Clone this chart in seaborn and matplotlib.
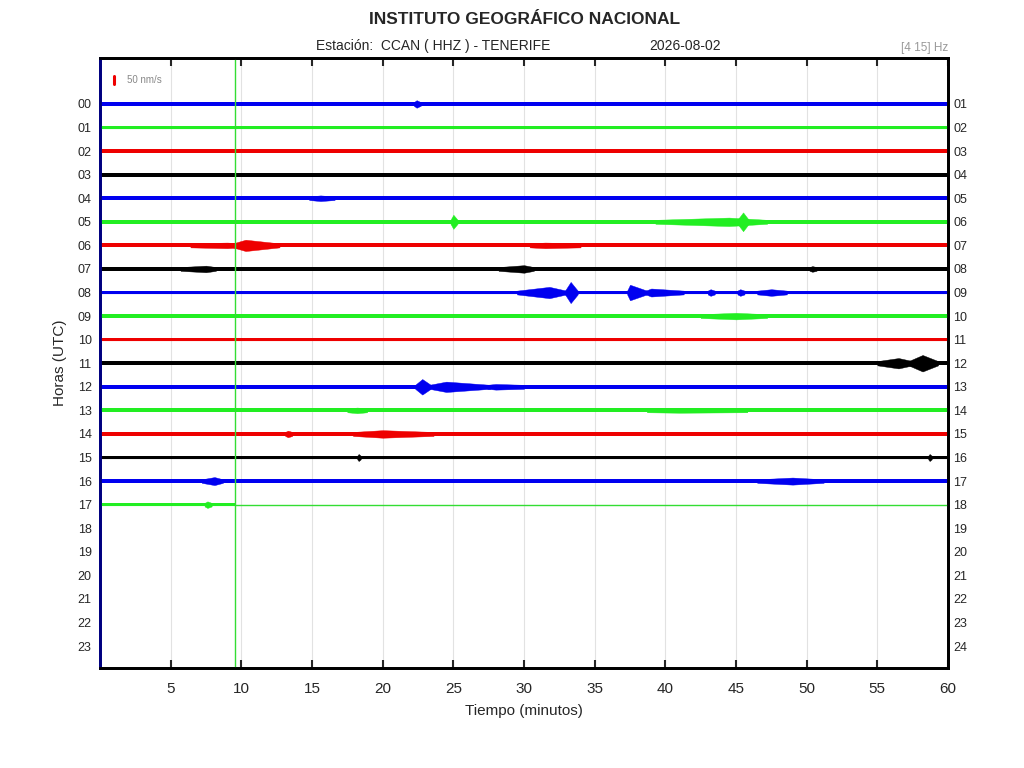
import numpy as np
import pandas as pd
import matplotlib
matplotlib.use("Agg")
import matplotlib.pyplot as plt
import seaborn as sns

# ---- data read from the helicorder ----
hours = [f"{h:02d}" for h in range(18)]
left_labels = [f"{h:02d}" for h in range(24)]
right_labels = [f"{h:02d}" for h in range(1, 25)]

# minute where each trace stops (last hour is still running)
trace_end = [60] * 17 + [9.55]

# background noise half-width of each trace (in row units)
base_halfwidth = [0.075, 0.075, 0.07, 0.08, 0.075, 0.085, 0.085, 0.08, 0.08,
                  0.08, 0.075, 0.09, 0.085, 0.08, 0.085, 0.075, 0.075, 0.075]

# visible bursts: (hour row, start min, peak min, end min, peak half-width)
events = [
    (0, 22.2, 22.4, 22.7, 0.16),
    (4, 14.8, 15.6, 16.6, 0.12),
    (5, 24.8, 25.0, 25.3, 0.30),
    (5, 39.3, 44.5, 47.2, 0.18),
    (5, 45.1, 45.5, 45.9, 0.40),
    (6, 6.4, 9.0, 10.0, 0.12),
    (6, 9.4, 10.3, 12.7, 0.24),
    (6, 30.4, 31.5, 34.0, 0.12),
    (7, 5.7, 7.5, 8.2, 0.14),
    (7, 28.2, 30.0, 30.7, 0.16),
    (7, 50.2, 50.4, 50.7, 0.12),
    (8, 29.5, 31.8, 33.0, 0.24),
    (8, 32.9, 33.3, 33.8, 0.45),
    (8, 37.3, 37.5, 38.7, 0.33),
    (8, 38.6, 39.0, 41.3, 0.17),
    (8, 43.0, 43.2, 43.5, 0.14),
    (8, 45.1, 45.3, 45.6, 0.14),
    (8, 46.5, 47.5, 48.6, 0.14),
    (9, 42.5, 45.0, 47.2, 0.14),
    (11, 55.0, 56.5, 57.5, 0.22),
    (11, 57.2, 58.2, 59.3, 0.35),
    (12, 22.3, 22.8, 23.4, 0.33),
    (12, 23.3, 24.5, 27.6, 0.22),
    (12, 27.4, 28.0, 30.0, 0.12),
    (13, 17.5, 18.2, 18.9, 0.12),
    (13, 38.7, 41.0, 45.8, 0.10),
    (14, 13.1, 13.3, 13.6, 0.14),
    (14, 17.9, 20.0, 23.6, 0.16),
    (15, 18.2, 18.3, 18.45, 0.15),
    (15, 58.6, 58.7, 58.85, 0.15),
    (16, 7.2, 8.1, 8.7, 0.17),
    (16, 46.5, 49.0, 51.2, 0.15),
    (17, 7.4, 7.6, 7.9, 0.14),
]

# ---- styling ----
trace_palette = ["#0000f0", "#22ee22", "#ee0000", "#000000"]
row_colors = [trace_palette[i % 4] for i in range(len(hours))]

sns.set_style("white")
plt.rcParams["font.family"] = ["Liberation Sans", "DejaVu Sans"]

fig = plt.figure(figsize=(10.24, 7.68), dpi=100)
ax = fig.add_axes([100 / 1024, 1 - 668 / 768, 848 / 1024, 610 / 768])

# trace centre lines through seaborn
lines = pd.DataFrame({
    "hora": np.repeat(hours, 2),
    "minuto": np.ravel([[0, e] for e in trace_end]),
    "pos": np.repeat([-i for i in range(len(hours))], 2),
})
sns.lineplot(data=lines, x="minuto", y="pos", hue="hora", palette=row_colors,
             legend=False, linewidth=0.8, ax=ax, estimator=None, sort=False)

# noise band of each trace
for i, (end, hw) in enumerate(zip(trace_end, base_halfwidth)):
    ax.fill_between([0, end], [-i - hw] * 2, [-i + hw] * 2,
                    color=row_colors[i], linewidth=0, zorder=3)

# bursts
for row, t0, tp, t1, amp in events:
    hw = base_halfwidth[row]
    ax.fill_between([t0, tp, t1], [-row - hw, -row - amp, -row - hw],
                    [-row + hw, -row + amp, -row + hw],
                    color=row_colors[row], linewidth=0.3,
                    edgecolor=row_colors[row], zorder=3)

# current time markers
now = trace_end[-1]
ax.axvline(now, color="#33dd33", linewidth=1.0, zorder=4)
ax.plot([now, 60], [-(len(hours) - 1)] * 2, color="#33dd33", linewidth=1.0, zorder=4)

# scale bar
ax.plot([1.0, 1.0], [0.85, 1.2], color="#ee0000", linewidth=2.2, zorder=4)
ax.text(1.9, 1.02, "50 nm/s", fontsize=7, color="#888888", va="center")

# axes
ax.set_xlim(0, 60)
ax.set_ylim(-23.93, 1.95)
ax.set_xticks(range(5, 61, 5))
ax.set_xticklabels([str(t) for t in range(5, 61, 5)], fontsize=11)
ax.xaxis.grid(True, color="#e2e2e2", linewidth=0.8)
ax.set_axisbelow(True)
ax.tick_params(axis="x", direction="in", length=6, width=1.5, top=True,
               bottom=True, pad=10)
ax.set_yticks([-i for i in range(24)])
ax.set_yticklabels(left_labels, fontsize=9)
ax.tick_params(axis="y", length=0, pad=6)

ax2 = ax.twinx()
ax2.set_ylim(ax.get_ylim())
ax2.set_yticks([-i for i in range(24)])
ax2.set_yticklabels(right_labels, fontsize=9)
ax2.tick_params(axis="y", length=0, pad=4)

for a in (ax, ax2):
    for side in ("top", "bottom", "right"):
        a.spines[side].set_color("black")
        a.spines[side].set_linewidth(2)
    a.spines["left"].set_color("#000080")
    a.spines["left"].set_linewidth(2)

ax.set_xlabel("Tiempo (minutos)", fontsize=11, labelpad=6)
ax.set_ylabel("Horas (UTC)", fontsize=11, labelpad=8)

fig.text(0.512, 0.975, "INSTITUTO GEOGRÁFICO NACIONAL", fontsize=12.5,
         fontweight="bold", ha="center", va="center")
fig.text(316 / 1024, 0.940, "Estación:  CCAN ( HHZ ) - TENERIFE", fontsize=10,
         ha="left", va="center")
fig.text(649 / 1024, 0.940, "2026-08-02", fontsize=10, ha="left", va="center")
fig.text(948 / 1024, 0.937, "[4 15] Hz", fontsize=8.5, color="#999999",
         ha="right", va="center")

fig.savefig("out.png", dpi=100)
